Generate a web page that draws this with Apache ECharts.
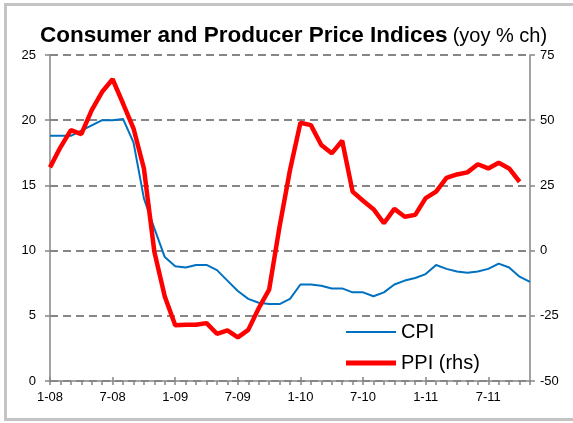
<!DOCTYPE html>
<html>
<head>
<meta charset="utf-8">
<script src="https://cdn.jsdelivr.net/npm/echarts@6/dist/echarts.min.js"></script>
<style>
  html, body { margin: 0; padding: 0; background: #fff; }
  #chart { width: 573px; height: 423px; }
</style>
</head>
<body>
<div id="chart"></div>
<script>
// Monthly categories, Jan 2008 to Nov 2011
const months = [
  '1-08','2-08','3-08','4-08','5-08','6-08','7-08','8-08','9-08','10-08','11-08','12-08',
  '1-09','2-09','3-09','4-09','5-09','6-09','7-09','8-09','9-09','10-09','11-09','12-09',
  '1-10','2-10','3-10','4-10','5-10','6-10','7-10','8-10','9-10','10-10','11-10','12-10',
  '1-11','2-11','3-11','4-11','5-11','6-11','7-11','8-11','9-11','10-11','11-11'
];

// Consumer prices, yoy % change (left axis)
const cpi = [
  18.8, 18.8, 18.8, 19.2, 19.6, 20.0, 20.0, 20.1, 18.3, 14.0, 11.7, 9.5,
  8.8, 8.7, 8.9, 8.9, 8.5, 7.7, 6.9, 6.3, 6.0, 5.9, 5.9, 6.3,
  7.4, 7.4, 7.3, 7.1, 7.1, 6.8, 6.8, 6.5, 6.8, 7.4, 7.7, 7.9,
  8.2, 8.9, 8.6, 8.4, 8.3, 8.4, 8.6, 9.0, 8.7, 8.0, 7.6
];

// Producer prices, yoy % change (right axis)
const ppi = [
  31.9, 39.6, 46.2, 44.7, 53.9, 60.9, 65.7, 56.4, 46.9, 31.5, -0.4, -17.6,
  -28.6, -28.4, -28.4, -27.8, -31.9, -30.6, -33.3, -30.4, -22.1, -15.0, 9.2, 30.9,
  49.0, 48.1, 40.5, 37.3, 42.1, 22.6, 19.1, 15.9, 10.5, 16.0, 13.0, 13.7,
  20.1, 22.6, 27.9, 29.2, 30.0, 33.1, 31.5, 33.7, 31.5, 26.4, null
];

const FONT = '"Liberation Sans", Arial, sans-serif';
const AXIS_GREY = '#868686';

const chart = echarts.init(document.getElementById('chart'), null, { renderer: 'canvas' });

chart.setOption({
  backgroundColor: '#ffffff',
  animation: false,
  title: {
    left: 35,
    top: 17,
    text: '{b|Consumer and Producer Price Indices} {n|(yoy % ch)}',
    textStyle: {
      rich: {
        b: { fontFamily: FONT, fontSize: 22.5, fontWeight: 'bold', color: '#000', lineHeight: 28 },
        n: { fontFamily: FONT, fontSize: 20, fontWeight: 'normal', color: '#000', lineHeight: 28 }
      }
    }
  },
  graphic: [{
    type: 'rect',
    silent: true,
    shape: { x: 5.5, y: 4.5, width: 620, height: 415 },
    style: { fill: 'none', stroke: '#c4c4c4', lineWidth: 3 }
  }],
  legend: [{
    data: ['CPI'],
    left: 346,
    top: 322,
    padding: 0,
    icon: 'rect',
    itemWidth: 50,
    itemHeight: 2,
    itemGap: 6,
    selectedMode: false,
    textStyle: { fontFamily: FONT, fontSize: 20, color: '#000' }
  }, {
    data: ['PPI (rhs)'],
    left: 346,
    top: 353,
    padding: 0,
    icon: 'rect',
    itemWidth: 50,
    itemHeight: 5,
    itemGap: 6,
    selectedMode: false,
    textStyle: { fontFamily: FONT, fontSize: 20, color: '#000' }
  }],
  grid: { left: 50, right: 43, top: 55, bottom: 42, containLabel: false },
  xAxis: [{
    type: 'category',
    data: months,
    boundaryGap: false,
    position: 'bottom',
    axisLine: { onZero: false, lineStyle: { color: AXIS_GREY, width: 1.5 } },
    axisTick: { interval: 0, length: 4, lineStyle: { color: AXIS_GREY, width: 1.5 } },
    axisLabel: { interval: 5, margin: 10, fontFamily: FONT, fontSize: 13, color: '#000' },
    splitLine: { show: false }
  }, {
    // major ticks that cross the axis every six months
    type: 'category',
    data: months,
    boundaryGap: false,
    position: 'bottom',
    axisLine: { show: false, onZero: false },
    axisTick: { interval: 5, inside: true, length: 4, lineStyle: { color: AXIS_GREY, width: 1.5 } },
    axisLabel: { show: false },
    splitLine: { show: false }
  }],
  yAxis: [{
    type: 'value',
    min: 0,
    max: 25,
    interval: 5,
    position: 'left',
    axisLine: { show: true, onZero: false, lineStyle: { color: AXIS_GREY, width: 1.5 } },
    axisTick: { show: true, length: 5, lineStyle: { color: AXIS_GREY, width: 1.5 } },
    axisLabel: { margin: 14, padding: [4, 0, 0, 0], fontFamily: FONT, fontSize: 13, color: '#000' },
    splitLine: { show: true, lineStyle: { color: AXIS_GREY, width: 2, type: [8, 5] } }
  }, {
    type: 'value',
    min: -50,
    max: 75,
    interval: 25,
    position: 'right',
    axisLine: { show: true, onZero: false, lineStyle: { color: AXIS_GREY, width: 1.5 } },
    axisTick: { show: true, length: 5, lineStyle: { color: AXIS_GREY, width: 1.5 } },
    axisLabel: { margin: 10, padding: [4, 0, 0, 0], fontFamily: FONT, fontSize: 13, color: '#000' },
    splitLine: { show: false }
  }],
  series: [{
    name: 'CPI',
    type: 'line',
    xAxisIndex: 0,
    yAxisIndex: 0,
    data: cpi,
    symbol: 'none',
    color: '#0070C0',
    lineStyle: { color: '#0070C0', width: 2 },
    z: 3
  }, {
    name: 'PPI (rhs)',
    type: 'line',
    xAxisIndex: 0,
    yAxisIndex: 1,
    data: ppi,
    symbol: 'none',
    color: '#FF0000',
    lineStyle: { color: '#FF0000', width: 4.5 },
    z: 4
  }]
});
</script>
</body>
</html>
